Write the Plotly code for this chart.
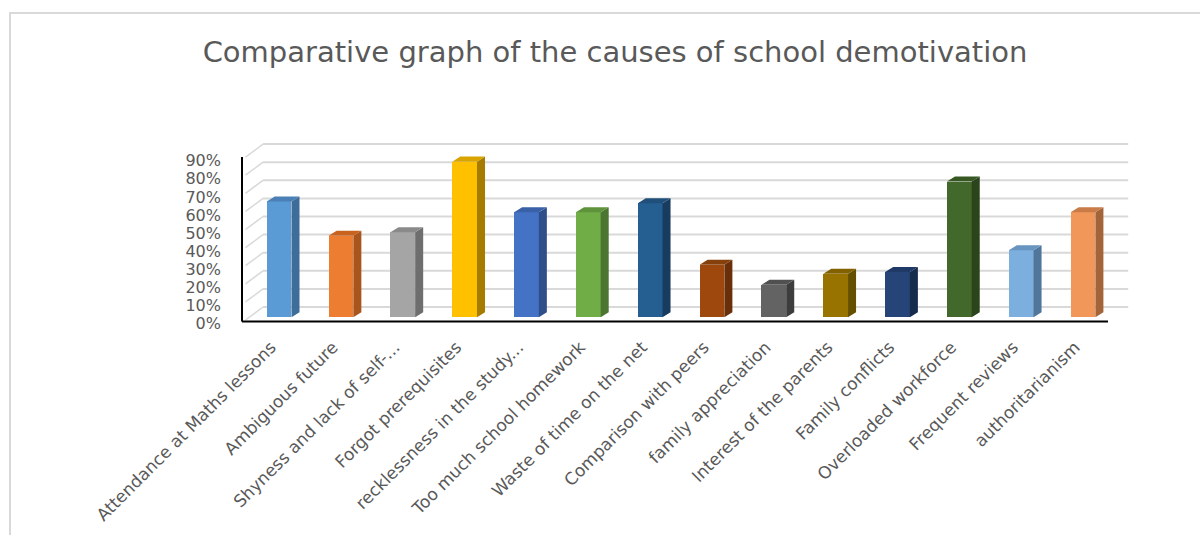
import plotly.graph_objects as go

categories = [
    "Attendance at Maths lessons", "Ambiguous future", "Shyness and lack of self-...",
    "Forgot prerequisites", "recklessness in the study...", "Too much school homework",
    "Waste of time on the net", "Comparison with peers", "family appreciation",
    "Interest of the parents", "Family conflicts", "Overloaded workforce",
    "Frequent reviews", "authoritarianism",
]
values = [0.64, 0.45, 0.47, 0.86, 0.58, 0.58, 0.63, 0.29, 0.18, 0.24, 0.25, 0.75, 0.37, 0.58]
front_colors = ["#5B9BD5", "#ED7D31", "#A5A5A5", "#FFC000", "#4472C4", "#70AD47", "#255E91",
                "#9E480E", "#636363", "#997300", "#264478", "#43682B", "#7CAFDD", "#F1975A"]
side_colors = ["#3F6D99", "#A8561E", "#6E6E6E", "#A67C00", "#2F4F8A", "#4B7530", "#173C5E",
               "#6A2F08", "#3D3D3D", "#665000", "#172B4D", "#2B441B", "#52769A", "#A4643A"]
top_colors = ["#4A80B5", "#C8621F", "#8A8A8A", "#D9A300", "#3A61A8", "#5F933B", "#1F4F7A",
              "#86400C", "#505050", "#826200", "#1F3A66", "#375823", "#6895C0", "#C97C47"]
y_ticks = [0.0, 0.1, 0.2, 0.3, 0.4, 0.5, 0.6, 0.7, 0.8, 0.9]
y_tick_labels = ["0%", "10%", "20%", "30%", "40%", "50%", "60%", "70%", "80%", "90%"]
title = "Comparative graph of the causes of school demotivation"

# style constants (3D look)
BAR_W = 0.40
DX = 0.13      # bar depth in x units
DY = 0.028     # bar depth in y units
WALL_DX = 21 / 888   # left wall depth (paper fraction)
BACK_DY = 0.057      # back wall offset
FRONT_DY = -0.015    # front wall offset
LABEL_DY = -0.035
GRID = "#D9D9D9"
TXT = "#595959"
FONT = "DejaVu Sans"

idx = list(range(len(categories)))
fig = go.Figure()

fig.add_trace(go.Bar(
    x=idx, y=values, width=BAR_W, marker=dict(color=front_colors, line=dict(width=0)),
    showlegend=False, hoverinfo="skip",
))

for i, v in enumerate(values):
    xr = i + BAR_W / 2
    xl = i - BAR_W / 2
    fig.add_trace(go.Scatter(
        x=[xr, xr + DX, xr + DX, xr, xr], y=[0, DY, v + DY, v, 0],
        fill="toself", fillcolor=side_colors[i], mode="lines", line=dict(width=0),
        showlegend=False, hoverinfo="skip"))
    fig.add_trace(go.Scatter(
        x=[xl, xr, xr + DX, xl + DX, xl], y=[v, v, v + DY, v + DY, v],
        fill="toself", fillcolor=top_colors[i], mode="lines", line=dict(width=0),
        showlegend=False, hoverinfo="skip"))

shapes = []
for t in y_ticks:
    shapes.append(dict(type="line", xref="paper", yref="y", x0=WALL_DX, x1=0.998,
                       y0=t + BACK_DY, y1=t + BACK_DY, line=dict(color=GRID, width=2), layer="below"))
    shapes.append(dict(type="line", xref="paper", yref="y", x0=0.004, x1=WALL_DX,
                       y0=t + FRONT_DY, y1=t + BACK_DY, line=dict(color=GRID, width=1.5), layer="below"))
# left axis line & bottom axis line
shapes.append(dict(type="line", xref="paper", yref="y", x0=0, x1=0,
                   y0=-0.023, y1=y_ticks[-1] + FRONT_DY, line=dict(color="#000000", width=2)))
shapes.append(dict(type="line", xref="paper", yref="y", x0=0, x1=(1108 - 242) / 888,
                   y0=-0.023, y1=-0.023, line=dict(color="#000000", width=2)))
# chart border
shapes.append(dict(type="rect", xref="paper", yref="paper", x0=(10 - 242) / 888, x1=1.2,
                   y0=-1.5, y1=(325 - 13) / 182, line=dict(color="#D9D9D9", width=2),
                   fillcolor="rgba(0,0,0,0)", layer="below"))

fig.update_layout(
    width=1200, height=535,
    margin=dict(l=242, r=70, t=143, b=210, autoexpand=False),
    paper_bgcolor="white", plot_bgcolor="white",
    font=dict(family=FONT, color=TXT),
    title=dict(text=title, x=615 / 1200, xanchor="center", y=1 - 52 / 535, yanchor="middle",
               font=dict(family=FONT, size=29, color=TXT)),
    shapes=shapes,
    bargap=0,
)
fig.update_xaxes(
    range=[-0.6, 13.76], tickmode="array", tickvals=idx, ticktext=categories,
    tickangle=-45, showgrid=False, zeroline=False, showline=False, ticks="",
    tickfont=dict(size=17, color=TXT), ticklabelshift=-8, ticklabelstandoff=8,
    automargin=False,
)
fig.update_yaxes(
    range=[-0.0425, 0.963], tickmode="array", tickvals=[t + LABEL_DY for t in y_ticks],
    ticktext=y_tick_labels, showgrid=False, zeroline=False, showline=False, ticks="",
    tickfont=dict(size=16, color=TXT), ticklabelstandoff=20, automargin=False,
)

fig.write_html("out.html")
